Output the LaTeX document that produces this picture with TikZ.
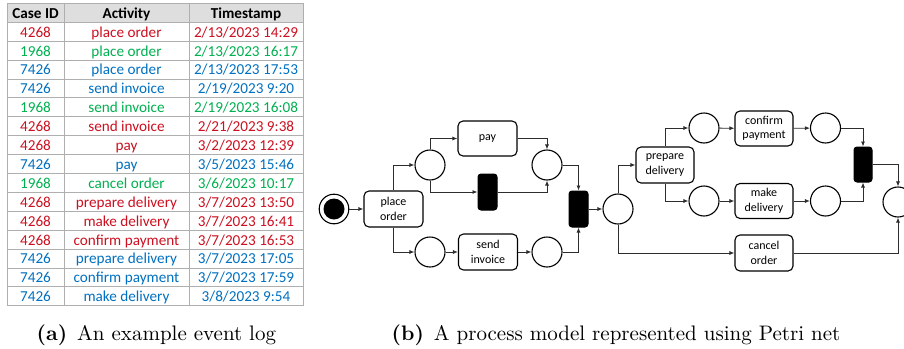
\documentclass[tikz,border=0pt]{standalone}
\usepackage{fontspec}
\newfontfamily\carlitofont{Carlito}
\newfontfamily\capfont{lmroman10-regular.otf}[BoldFont=lmroman10-bold.otf]
\usetikzlibrary{arrows.meta}
\definecolor{cred}{RGB}{204,16,32}
\definecolor{cgreen}{RGB}{0,176,80}
\definecolor{cblue}{RGB}{0,112,192}
\definecolor{hdrgray}{RGB}{222,222,222}
\definecolor{gridgray}{RGB}{175,175,175}
\definecolor{conn}{RGB}{45,45,45}
\tikzset{
  cell/.style={anchor=base,inner sep=0pt,font=\carlitofont\fontsize{15.2}{18}\selectfont},
  hdr/.style={cell,font=\carlitofont\bfseries\fontsize{15.2}{18}\selectfont},
  trans/.style={draw=black,line width=1.1pt,rounded corners=5pt,fill=white,minimum width=59pt,minimum height=36pt,inner sep=1pt,align=center,font=\carlitofont\fontsize{12}{14.5}\selectfont},
  place/.style={draw=black,line width=1.1pt,circle,minimum size=30pt,inner sep=0pt,fill=white},
  silent/.style={draw=black,line width=1pt,fill=black,rounded corners=3pt,minimum width=19pt,minimum height=36pt,inner sep=0pt},
  arr/.style={draw=conn,line width=0.8pt,-{Latex[length=5pt,width=4pt]}},
  capt/.style={anchor=base west,inner sep=0pt,font=\capfont\fontsize{21}{25}\selectfont}
}
\begin{document}
\begin{tikzpicture}[x=1pt,y=-1pt]
\useasboundingbox (0,0) rectangle (904,348);
\clip (0,0) rectangle (904,348);
% ---------- table ----------
\fill[hdrgray] (7,3.3) rectangle (303,22.3);
\foreach \k in {0,...,16}{\draw[gridgray,line width=0.8pt] (7,3.3+18.9*\k) -- (303,3.3+18.9*\k);}
\foreach \xx in {7,64,189,303}{\draw[gridgray,line width=0.8pt] (\xx,3.3) -- (\xx,305.7);}
\node[hdr] (h1) at (35.5,18.2) {Case ID};
\node[hdr] (h2) at (126.5,18.2) {Activity};
\node[hdr] (h3) at (246,18.2) {Timestamp};
\foreach [count=\i] \id/\act/\ts/\col in {
 4268/place order/2\slash13\slash2023 14:29/cred,
 1968/place order/2\slash13\slash2023 16:17/cgreen,
 7426/place order/2\slash13\slash2023 17:53/cblue,
 7426/send invoice/2\slash19\slash2023 9:20/cblue,
 1968/send invoice/2\slash19\slash2023 16:08/cgreen,
 4268/send invoice/2\slash21\slash2023 9:38/cred,
 4268/pay/3\slash2\slash2023 12:39/cred,
 7426/pay/3\slash5\slash2023 15:46/cblue,
 1968/cancel order/3\slash6\slash2023 10:17/cgreen,
 4268/prepare delivery/3\slash7\slash2023 13:50/cred,
 4268/make delivery/3\slash7\slash2023 16:41/cred,
 4268/confirm payment/3\slash7\slash2023 16:53/cred,
 7426/prepare delivery/3\slash7\slash2023 17:05/cblue,
 7426/confirm payment/3\slash7\slash2023 17:59/cblue,
 7426/make delivery/3\slash8\slash2023 9:54/cblue}{
 \node[cell,text=\col] (id\i) at (35.5,18.2+18.9*\i) {\id};
 \node[cell,text=\col] (ac\i) at (126.5,18.2+18.9*\i) {\act};
 \node[cell,text=\col] (ts\i) at (246,18.2+18.9*\i) {\ts};
}
% ---------- Petri net ----------
\node[place,minimum size=29.6pt] (start) at (334,209) {};
\node[circle,fill=black,minimum size=21pt,inner sep=0pt] (tok) at (334,209) {};
\node[trans] (po) at (393.5,209) {place\\order};
\node[place] (p1) at (430,165) {};
\node[place] (p2) at (430,252) {};
\node[trans,minimum height=35pt] (pay) at (487.5,138.5) {pay};
\node[silent] (t1) at (487.5,192) {};
\node[trans] (si) at (488,252) {send\\invoice};
\node[place] (p3) at (547,165) {};
\node[place] (p4) at (547,252) {};
\node[silent] (t2) at (578.5,209) {};
\node[place] (p5) at (618,209) {};
\node[trans,minimum width=58pt] (pd) at (665,165) {prepare\\delivery};
\node[place] (p6) at (704,128) {};
\node[place] (p7) at (704,201) {};
\node[trans,minimum width=58pt,minimum height=35pt] (cp) at (764,128.5) {confirm\\payment};
\node[trans,minimum width=58pt,minimum height=35pt] (md) at (764,201) {make\\delivery};
\node[trans,minimum width=58pt] (co) at (764,253) {cancel\\order};
\node[place] (p8) at (825.5,128) {};
\node[place] (p9) at (825.5,201) {};
\node[silent,minimum width=18pt,minimum height=35pt] (t3) at (863,164.5) {};
\node[place] (p10) at (898,202) {};
\draw[arr] (start) -- (po);
\draw[arr] (po.north) |- (p1.west);
\draw[arr] (po.south) |- (p2.west);
\draw[arr] (p1.north) |- (pay.west);
\draw[arr] (p1.south) |- (t1.west);
\draw[arr] (pay.east) -| (p3.north);
\draw[arr] (t1.east) -| (p3.south);
\draw[arr] (p2) -- (si);
\draw[arr] (si) -- (p4);
\draw[arr] (p3.east) -| (t2.north);
\draw[arr] (p4.east) -| (t2.south);
\draw[arr] (t2) -- (p5);
\draw[arr] (p5.north) |- (pd.west);
\draw[arr] (p5.south) |- (co.west);
\draw[arr] (pd.north) |- (p6.west);
\draw[arr] (pd.south) |- (p7.west);
\draw[arr] (p6) -- (cp);
\draw[arr] (cp) -- (p8);
\draw[arr] (p7) -- (md);
\draw[arr] (md) -- (p9);
\draw[arr] (p8.east) -| (t3.north);
\draw[arr] (p9.east) -| (t3.south);
\draw[arr] (t3.east) -| (p10.north);
\draw[arr] (co.east) -| (p10.south);
% ---------- captions ----------
\node[capt] (capa) at (36.5,340) {\textbf{(a)}\hspace{10pt}An example event log};
\node[capt] (capb) at (391.5,340) {\textbf{(b)}\hspace{10pt}A process model represented using Petri net};
\end{tikzpicture}
\end{document}
